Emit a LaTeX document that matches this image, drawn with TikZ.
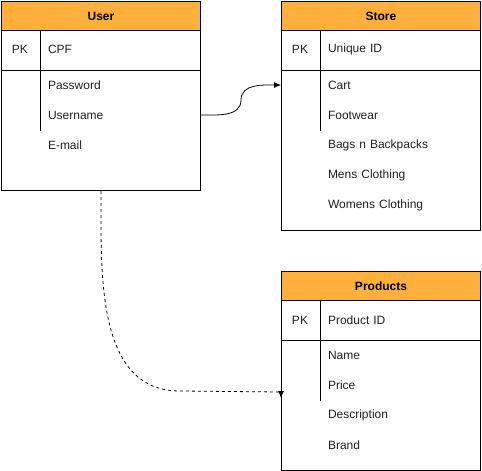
\documentclass[tikz,border=0pt]{standalone}
\usepackage{fontspec}
\setmainfont{Liberation Sans}
\usetikzlibrary{arrows.meta,positioning}
\definecolor{hdrorange}{HTML}{FFAF3C}
\definecolor{txtgray}{HTML}{1F1F1F}

\tikzset{
  tablebox/.style={draw, line width=1pt, anchor=north west, inner sep=0pt},
  header/.style={draw, fill=hdrorange, line width=1pt, anchor=north west,
    minimum width=199, minimum height=29, inner sep=0pt,
    font=\fontsize{12}{14}\selectfont\bfseries},
  field/.style={text width=144, inner xsep=8, align=left, text=txtgray,
    font=\fontsize{12}{14}\selectfont},
  keytag/.style={text=txtgray, font=\fontsize{12}{14}\selectfont},
}

\begin{document}
\begin{tikzpicture}[x=1pt,y=-1pt]
\useasboundingbox (0,0) rectangle (482,471);

% User
\node[tablebox, minimum width=199, minimum height=189] (user) at (1,1) {};
\node[header] (userhead) at (user.north west) {User};
\draw[line width=1pt] ([yshift=-69pt]user.north west) -- ([yshift=-69pt]user.north east);
\draw[line width=1pt] ([xshift=39pt]userhead.south west) -- ++(0,100);
\node[keytag] (userpk) at (20,49) {PK};
\node[field] (cpf) at (120,49) {CPF};
\node[field] (password) at (120,85) {Password};
\node[field] (username) at (120,115) {Username};
\node[field] (email) at (120,145) {E-mail};

% Store
\node[tablebox, minimum width=199, minimum height=229] (store) at (281,1) {};
\node[header] (storehead) at (store.north west) {Store};
\draw[line width=1pt] ([yshift=-69pt]store.north west) -- ([yshift=-69pt]store.north east);
\draw[line width=1pt] ([xshift=39pt]storehead.south west) -- ++(0,100);
\node[keytag] (storepk) at (300,49) {PK};
\node[field] (uid) at (400,49) {Unique ID};
\node[field] (cart) at (400,85) {Cart};
\node[field] (footwear) at (400,115) {Footwear};
\node[field] (bags) at (400,145) {Bags n Backpacks};
\node[field] (mens) at (400,175) {Mens Clothing};
\node[field] (womens) at (400,205) {Womens Clothing};

% Products
\node[tablebox, minimum width=199, minimum height=199] (prod) at (281,271) {};
\node[header] (prodhead) at (prod.north west) {Products};
\draw[line width=1pt] ([yshift=-69pt]prod.north west) -- ([yshift=-69pt]prod.north east);
\draw[line width=1pt] ([xshift=39pt]prodhead.south west) -- ++(0,100);
\node[keytag] (prodpk) at (300,320) {PK};
\node[field] (pid) at (400,320) {Product ID};
\node[field] (name) at (400,355) {Name};
\node[field] (price) at (400,385) {Price};
\node[field] (descr) at (400,415) {Description};
\node[field] (brand) at (400,445) {Brand};

% links
\coordinate (bend) at (241,100);
\draw[-{Latex[length=7pt,width=6pt]}, line width=0.8pt] (username.east)
  to[out=0,in=-90] (bend) to[out=90,in=180] (cart.west -| store.west);
\coordinate (pend) at (281,392);
\draw[dashed, -{Latex[length=7pt,width=6pt]}, line width=0.8pt] (user.south)
  to[out=-90,in=180] (180,391) -- (pend) -- ++(0,6);
\end{tikzpicture}
\end{document}
